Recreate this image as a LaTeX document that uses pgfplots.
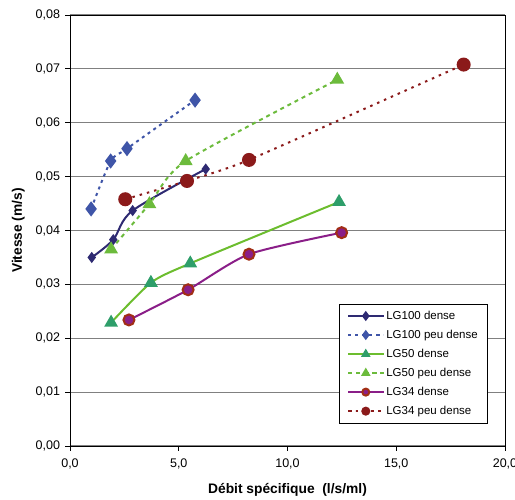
\documentclass[border=0pt]{standalone}
\usepackage{pgfplots}
\pgfplotsset{compat=1.18}
\usepackage{fontspec}
\setmainfont{Liberation Sans}
\definecolor{navy}{HTML}{2E2A72}
\definecolor{bluepd}{HTML}{3F55A8}
\definecolor{grn}{HTML}{6CBD2E}
\definecolor{grnmk}{HTML}{2E9E6A}
\definecolor{grnpd}{HTML}{6CBB3C}
\definecolor{purp}{HTML}{8A1E88}
\definecolor{redpd}{HTML}{8B1A1A}
\definecolor{gridc}{HTML}{808080}
\begin{document}
\begin{tikzpicture}
\useasboundingbox (0pt,0pt) rectangle (515pt,499pt);
\begin{axis}[
  at={(70pt,53pt)}, anchor=south west,
  width=435pt, height=431pt, scale only axis,
  xmin=0, xmax=20, ymin=0, ymax=0.08,
  xtick={0,5,10,15,20},
  ytick={0,0.01,0.02,0.03,0.04,0.05,0.06,0.07,0.08},
  ymajorgrids, major grid style={gridc, line width=1.2pt},
  axis line style={black, line width=0.8pt},
  tick style={black, line width=0.8pt},
  tick align=outside, major tick length=4.5pt,
  xtick pos=bottom, ytick pos=left,
  /pgf/number format/assume math mode=true,
  xticklabel style={yshift=-5pt, /pgf/number format/.cd, fixed, fixed zerofill, precision=1, use comma},
  yticklabel style={xshift=-2pt, /pgf/number format/.cd, fixed, fixed zerofill, precision=2, use comma},
  scaled y ticks=false,
  ticklabel style={font=\fontsize{12.5}{14}\selectfont},
  xlabel={\bfseries Débit spécifique\ \ (l/s/ml)},
  ylabel={\bfseries Vitesse (m/s)},
  label style={font=\fontsize{13.8}{16}\selectfont},
  xlabel style={yshift=-7pt},
  ylabel style={yshift=4pt},
  legend style={at={(0.961,0.330)}, anchor=north east, draw=black, line width=0.6pt,
    font=\fontsize{11.5}{13}\selectfont, row sep=5.2pt, inner xsep=8pt, inner ysep=5pt, fill=white,
    nodes={inner xsep=2pt}},
  legend cell align=left,
  legend image code/.code={
    \draw[mark repeat=2,mark phase=2, mark size=3.5pt] plot coordinates {(0pt,0pt) (17.5pt,0pt) (35pt,0pt)};
  },
]
\addplot[navy, line width=2pt, smooth, tension=0.5, mark=diamond*, mark size=4pt, mark options={solid, fill=navy}]
 coordinates {(1.0,0.0350) (1.99,0.0383) (2.88,0.0437) (6.24,0.0514)};
\addlegendentry{LG100 dense}
\addplot[bluepd, line width=2pt, dash pattern=on 3pt off 4pt, smooth, tension=0.4, mark=diamond*, mark size=6pt, mark options={solid, fill=bluepd}]
 coordinates {(0.97,0.0440) (1.87,0.0529) (2.62,0.0552) (5.75,0.0642)};
\addlegendentry{LG100 peu dense}
\addplot[grn, line width=2pt, smooth, tension=0.4, mark=triangle*, mark size=6pt, mark options={solid, fill=grnmk, draw=grnmk}]
 coordinates {(1.89,0.0229) (3.72,0.0303) (5.53,0.0339) (12.37,0.0453)};
\addlegendentry{LG50 dense}
\addplot[grnpd, line width=2pt, dash pattern=on 4pt off 4pt, smooth, tension=0.4, mark=triangle*, mark size=6pt, mark options={solid, fill=grnpd}]
 coordinates {(1.89,0.0365) (3.65,0.0449) (5.32,0.0529) (12.29,0.0680)};
\addlegendentry{LG50 peu dense}
\addplot[purp, line width=2pt, smooth, tension=0.4, mark=*, mark size=5.5pt, mark options={solid, fill=purp, draw=redpd!80!orange}]
 coordinates {(2.71,0.0234) (5.43,0.0290) (8.23,0.0356) (12.49,0.0396)};
\addlegendentry{LG34 dense}
\addplot[redpd, line width=2pt, dash pattern=on 2.5pt off 5pt, smooth, tension=0.3, mark=*, mark size=6pt, mark options={solid, fill=redpd}]
 coordinates {(2.54,0.0458) (5.38,0.0492) (8.23,0.0531) (18.10,0.0708)};
\addlegendentry{LG34 peu dense}
\end{axis}
\end{tikzpicture}
\end{document}
